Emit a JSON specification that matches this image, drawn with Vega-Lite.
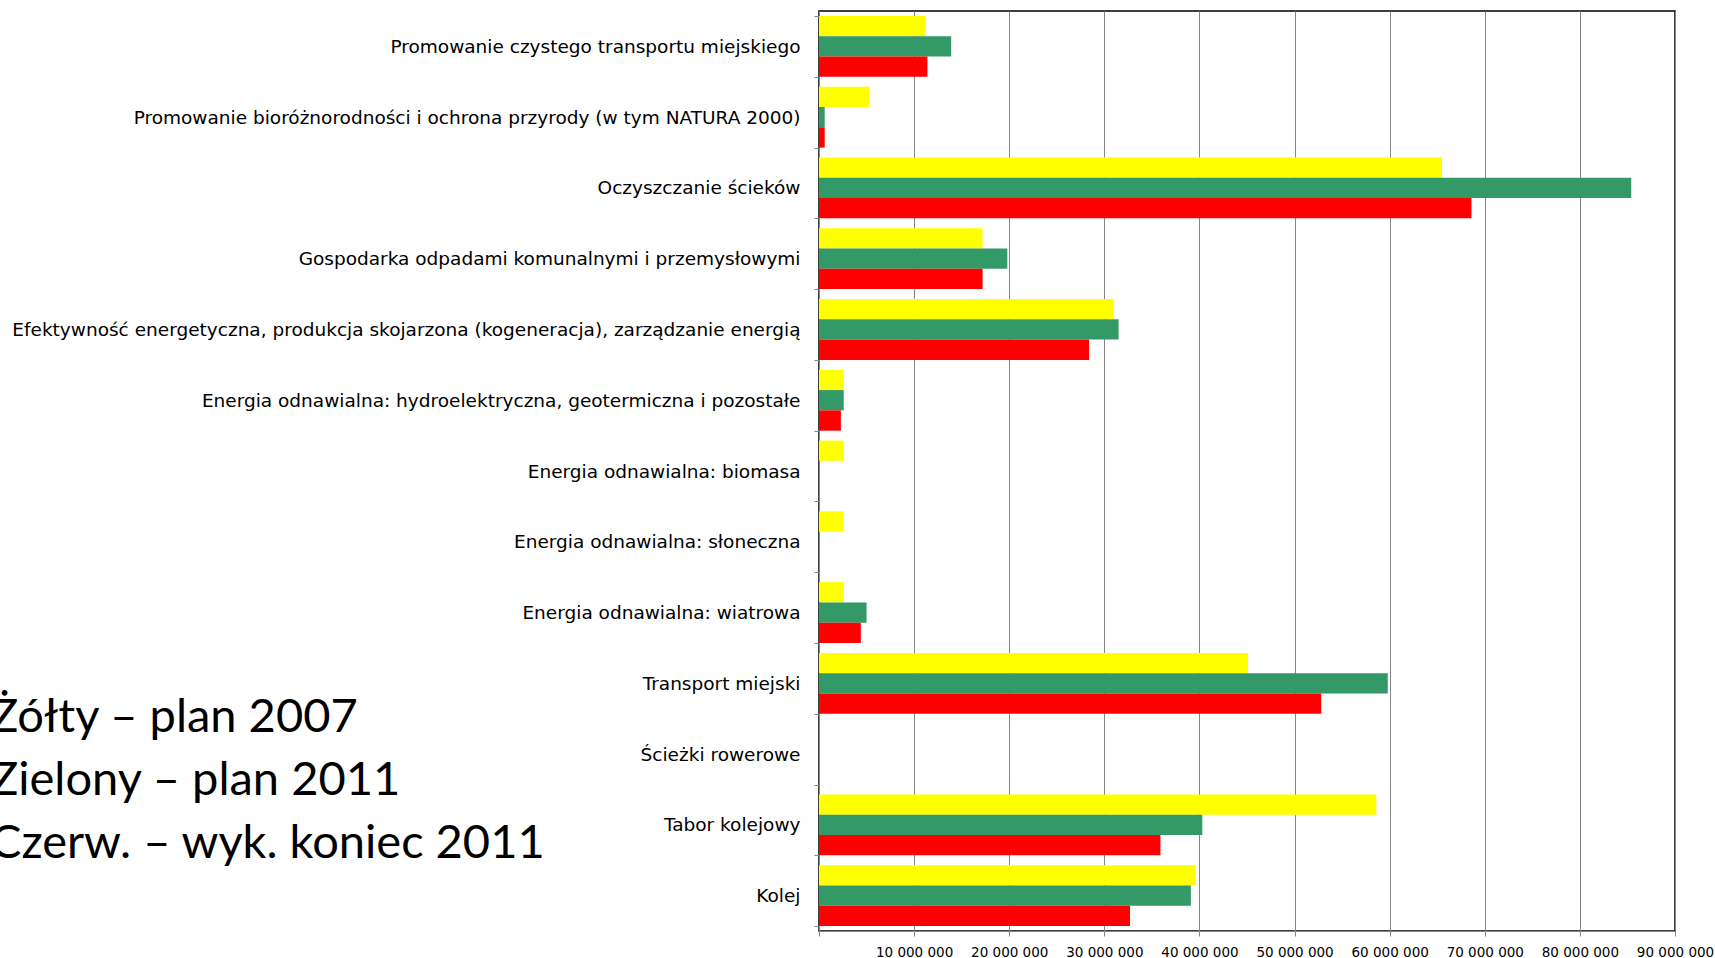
{
  "$schema": "https://vega.github.io/schema/vega-lite/v6.json",
  "width": 856,
  "height": 920,
  "autosize": {"type": "none"},
  "padding": {"left": 819, "top": 11, "right": 40, "bottom": 27},
  "background": "white",
  "title": {
    "text": ["Żółty – plan 2007", "Zielony – plan 2011", "Czerw. – wyk. koniec 2011"],
    "orient": "top",
    "anchor": "start",
    "frame": "group",
    "offset": 0,
    "dx": -829,
    "dy": 903,
    "font": "Lato",
    "fontSize": 47,
    "fontWeight": "normal",
    "color": "#000000",
    "lineHeight": 63,
    "baseline": "alphabetic"
  },
  "data": {
    "values": [
      {"kategoria": "Promowanie czystego transportu miejskiego", "seria": "plan 2007", "wartosc": 11200000},
      {"kategoria": "Promowanie czystego transportu miejskiego", "seria": "plan 2011", "wartosc": 13900000},
      {"kategoria": "Promowanie czystego transportu miejskiego", "seria": "wyk. koniec 2011", "wartosc": 11400000},
      {"kategoria": "Promowanie bioróżnorodności i ochrona przyrody (w tym NATURA 2000)", "seria": "plan 2007", "wartosc": 5300000},
      {"kategoria": "Promowanie bioróżnorodności i ochrona przyrody (w tym NATURA 2000)", "seria": "plan 2011", "wartosc": 600000},
      {"kategoria": "Promowanie bioróżnorodności i ochrona przyrody (w tym NATURA 2000)", "seria": "wyk. koniec 2011", "wartosc": 600000},
      {"kategoria": "Oczyszczanie ścieków", "seria": "plan 2007", "wartosc": 65500000},
      {"kategoria": "Oczyszczanie ścieków", "seria": "plan 2011", "wartosc": 85400000},
      {"kategoria": "Oczyszczanie ścieków", "seria": "wyk. koniec 2011", "wartosc": 68600000},
      {"kategoria": "Gospodarka odpadami komunalnymi i przemysłowymi", "seria": "plan 2007", "wartosc": 17200000},
      {"kategoria": "Gospodarka odpadami komunalnymi i przemysłowymi", "seria": "plan 2011", "wartosc": 19800000},
      {"kategoria": "Gospodarka odpadami komunalnymi i przemysłowymi", "seria": "wyk. koniec 2011", "wartosc": 17200000},
      {"kategoria": "Efektywność energetyczna, produkcja skojarzona (kogeneracja), zarządzanie energią", "seria": "plan 2007", "wartosc": 31000000},
      {"kategoria": "Efektywność energetyczna, produkcja skojarzona (kogeneracja), zarządzanie energią", "seria": "plan 2011", "wartosc": 31500000},
      {"kategoria": "Efektywność energetyczna, produkcja skojarzona (kogeneracja), zarządzanie energią", "seria": "wyk. koniec 2011", "wartosc": 28400000},
      {"kategoria": "Energia odnawialna: hydroelektryczna, geotermiczna i pozostałe", "seria": "plan 2007", "wartosc": 2600000},
      {"kategoria": "Energia odnawialna: hydroelektryczna, geotermiczna i pozostałe", "seria": "plan 2011", "wartosc": 2600000},
      {"kategoria": "Energia odnawialna: hydroelektryczna, geotermiczna i pozostałe", "seria": "wyk. koniec 2011", "wartosc": 2300000},
      {"kategoria": "Energia odnawialna: biomasa", "seria": "plan 2007", "wartosc": 2600000},
      {"kategoria": "Energia odnawialna: biomasa", "seria": "plan 2011", "wartosc": 0},
      {"kategoria": "Energia odnawialna: biomasa", "seria": "wyk. koniec 2011", "wartosc": 0},
      {"kategoria": "Energia odnawialna: słoneczna", "seria": "plan 2007", "wartosc": 2600000},
      {"kategoria": "Energia odnawialna: słoneczna", "seria": "plan 2011", "wartosc": 0},
      {"kategoria": "Energia odnawialna: słoneczna", "seria": "wyk. koniec 2011", "wartosc": 0},
      {"kategoria": "Energia odnawialna: wiatrowa", "seria": "plan 2007", "wartosc": 2600000},
      {"kategoria": "Energia odnawialna: wiatrowa", "seria": "plan 2011", "wartosc": 5000000},
      {"kategoria": "Energia odnawialna: wiatrowa", "seria": "wyk. koniec 2011", "wartosc": 4400000},
      {"kategoria": "Transport miejski", "seria": "plan 2007", "wartosc": 45100000},
      {"kategoria": "Transport miejski", "seria": "plan 2011", "wartosc": 59800000},
      {"kategoria": "Transport miejski", "seria": "wyk. koniec 2011", "wartosc": 52800000},
      {"kategoria": "Ścieżki rowerowe", "seria": "plan 2007", "wartosc": 0},
      {"kategoria": "Ścieżki rowerowe", "seria": "plan 2011", "wartosc": 0},
      {"kategoria": "Ścieżki rowerowe", "seria": "wyk. koniec 2011", "wartosc": 0},
      {"kategoria": "Tabor kolejowy", "seria": "plan 2007", "wartosc": 58600000},
      {"kategoria": "Tabor kolejowy", "seria": "plan 2011", "wartosc": 40300000},
      {"kategoria": "Tabor kolejowy", "seria": "wyk. koniec 2011", "wartosc": 35900000},
      {"kategoria": "Kolej", "seria": "plan 2007", "wartosc": 39600000},
      {"kategoria": "Kolej", "seria": "plan 2011", "wartosc": 39100000},
      {"kategoria": "Kolej", "seria": "wyk. koniec 2011", "wartosc": 32700000}
    ]
  },
  "mark": {"type": "bar"},
  "encoding": {
    "y": {
      "field": "kategoria",
      "type": "nominal",
      "sort": null,
      "scale": {"paddingInner": 0.14, "paddingOuter": 0.07},
      "axis": {
        "title": null,
        "tickBand": "extent",
        "tickSize": 5,
        "tickColor": "#868686",
        "domainColor": "#868686",
        "labelFont": "DejaVu Sans",
        "labelFontSize": 18.5,
        "labelColor": "#000000",
        "labelPadding": 14,
        "labelLimit": 0,
        "grid": false
      }
    },
    "x": {
      "field": "wartosc",
      "type": "quantitative",
      "scale": {"domain": [0, 90000000], "nice": false, "zero": true},
      "axis": {
        "title": null,
        "values": [0, 10000000, 20000000, 30000000, 40000000, 50000000, 60000000, 70000000, 80000000, 90000000],
        "grid": true,
        "gridColor": "#868686",
        "gridWidth": 1,
        "tickColor": "#868686",
        "tickSize": 5,
        "domainColor": "#868686",
        "labelFont": "DejaVu Sans",
        "labelFontSize": 13.5,
        "labelColor": "#000000",
        "labelPadding": 9,
        "labelFlush": false,
        "labelOverlap": false,
        "labelExpr": "datum.value == 0 ? '' : replace(format(datum.value, ','), /,/g, ' ')"
      }
    },
    "yOffset": {
      "field": "seria",
      "type": "nominal",
      "sort": ["plan 2007", "plan 2011", "wyk. koniec 2011"]
    },
    "color": {
      "field": "seria",
      "type": "nominal",
      "scale": {
        "domain": ["plan 2007", "plan 2011", "wyk. koniec 2011"],
        "range": ["#FFFF00", "#339966", "#FF0000"]
      },
      "legend": null
    }
  },
  "config": {
    "view": {"stroke": "#000000", "strokeWidth": 1.5}
  }
}
